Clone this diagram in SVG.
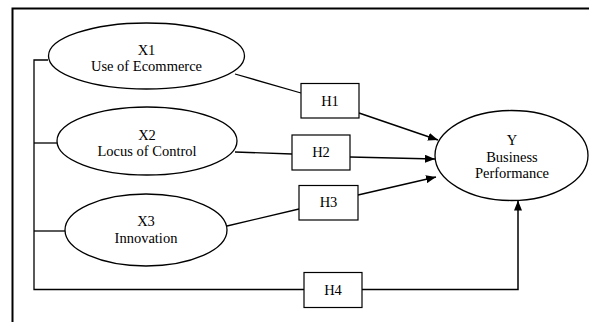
<svg xmlns="http://www.w3.org/2000/svg" width="589" height="322" viewBox="0 0 589 322">
<style>
.node{fill:#fff;stroke:#000;stroke-width:1.3}
.box{fill:#fff;stroke:#000;stroke-width:1.2}
.t{font-family:'Liberation Serif','Times New Roman','DejaVu Serif',serif;font-size:14.5px;fill:#000;text-anchor:middle}
.ln{fill:none;stroke:#000;stroke-width:1.3}
.ar{fill:none;stroke:#000;stroke-width:1.5;marker-end:url(#ah)}
</style>
<defs>
<marker id="ah" viewBox="0 0 10 8" refX="10" refY="4" markerWidth="10" markerHeight="8" markerUnits="userSpaceOnUse" orient="auto">
<path d="M0,0 L10,4 L0,8 Z" fill="#000"/>
</marker>
</defs>
<rect width="589" height="322" fill="#fff"/>
<g id="frame">
<path d="M12.5,322 V8.5 H589" fill="none" stroke="#000" stroke-width="2"/>
</g>
<g id="connectors">
<path class="ln" d="M48,60 H34 V289.5 H304"/>
<path class="ln" d="M34,143 H57"/>
<path class="ln" d="M34,231 H65"/>
<path class="ln" d="M235,74 L301,93"/>
<path class="ln" d="M235,152 L292,154"/>
<path class="ln" d="M227,226 L299,209"/>
<path class="ar" d="M359,113 L438,140"/>
<path class="ar" d="M350,157 L435,159"/>
<path class="ar" d="M358,195 L436,177"/>
<path class="ar" d="M362,289.5 H518 V200.5"/>
</g>
<g id="X1">
<ellipse class="node" cx="146.5" cy="56" rx="98" ry="33"/>
<text class="t" x="146.5" y="55" font-family="Liberation Serif, serif">X1</text>
<text class="t" x="146.5" y="71" font-family="Liberation Serif, serif">Use of Ecommerce</text>
</g>
<g id="X2">
<ellipse class="node" cx="147" cy="141" rx="90" ry="34"/>
<text class="t" x="147" y="140">X2</text>
<text class="t" x="147" y="156">Locus of Control</text>
</g>
<g id="X3">
<ellipse class="node" cx="146" cy="230" rx="81" ry="36"/>
<text class="t" x="146" y="225.5">X3</text>
<text class="t" x="146" y="242.5">Innovation</text>
</g>
<g id="Y">
<ellipse class="node" cx="511.5" cy="155.5" rx="76.5" ry="45"/>
<text class="t" x="512" y="145">Y</text>
<text class="t" x="512" y="162">Business</text>
<text class="t" x="512" y="178">Performance</text>
</g>
<g id="H1">
<rect class="box" x="301" y="83.5" width="58" height="34.5"/>
<text class="t" x="330" y="105.5">H1</text>
</g>
<g id="H2">
<rect class="box" x="292" y="135" width="58" height="35"/>
<text class="t" x="321" y="157">H2</text>
</g>
<g id="H3">
<rect class="box" x="299" y="185.5" width="59" height="34.5"/>
<text class="t" x="328.5" y="207">H3</text>
</g>
<g id="H4">
<rect class="box" x="304" y="272.5" width="58" height="35"/>
<text class="t" x="333" y="295">H4</text>
</g>
</svg>
